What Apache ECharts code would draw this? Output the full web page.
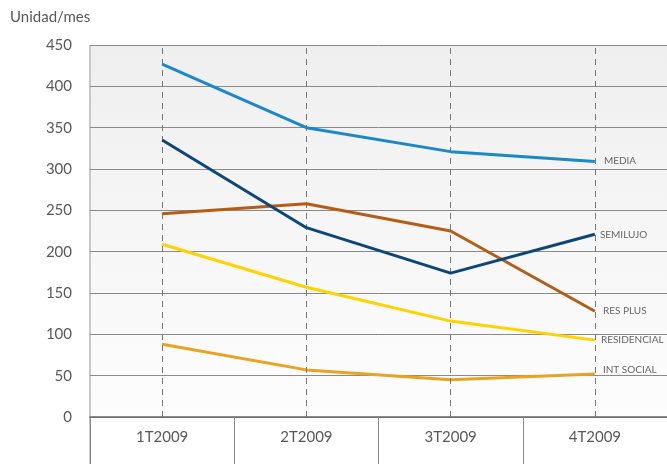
<!DOCTYPE html>
<html>
<head>
<meta charset="utf-8">
<script src="https://cdn.jsdelivr.net/npm/echarts@6/dist/echarts.min.js"></script>
<style>
  html, body { margin: 0; padding: 0; background: #fff; }
  #chart { width: 667px; height: 464px; }
</style>
</head>
<body>
<div id="chart"></div>
<script>
'use strict';
var categories = ['1T2009', '2T2009', '3T2009', '4T2009'];
var yTicks = [0, 50, 100, 150, 200, 250, 300, 350, 400, 450];

var media = [427, 350, 321, 309];
var semilujo = [335, 229, 174, 221];
var resPlus = [246, 258, 225, 128];
var residencial = [209, 157, 116, 93];
var intSocial = [88, 57, 45, 52];

var seriesNames = ['MEDIA', 'SEMILUJO', 'RES PLUS', 'RESIDENCIAL', 'INT SOCIAL'];
var seriesData = [media, semilujo, resPlus, residencial, intSocial];
var seriesColors = ['#1a88c9', '#0d4678', '#b35d17', '#ffd200', '#e8a420'];
var labelOffsets = [[9, -1], [5, 0], [8, 0], [6, 0], [8, -4]];

var fontFamily = 'Lato, "Open Sans", sans-serif';

var myChart = echarts.init(document.getElementById('chart'));

var series = seriesData.map(function (d, i) {
    var s = {
        name: seriesNames[i],
        type: 'line',
        data: d,
        symbol: 'none',
        z: 5 - i + 3,
        lineStyle: { width: 3, color: seriesColors[i] },
        itemStyle: { color: seriesColors[i] },
        endLabel: {
            show: true,
            formatter: seriesNames[i],
            color: '#666',
            fontSize: 10,
            fontFamily: fontFamily,
            distance: 0,
            offset: labelOffsets[i]
        }
    };
    if (i === 0) {
        s.markLine = {
            silent: true,
            symbol: 'none',
            label: { show: false },
            lineStyle: { color: '#777', type: [6, 5], width: 1 },
            data: categories.map(function (c) { return { xAxis: c }; })
        };
    }
    return s;
});

var option = {
    animation: false,
    textStyle: { fontFamily: fontFamily },
    grid: {
        left: 90, right: 0, top: 45, bottom: 47,
        show: true,
        borderWidth: 0,
        backgroundColor: {
            type: 'linear', x: 0, y: 0, x2: 0, y2: 1,
            colorStops: [
                { offset: 0, color: '#efefef' },
                { offset: 1, color: '#fdfdfd' }
            ]
        }
    },
    graphic: [
        {
            type: 'text', left: 10, top: 10,
            style: { text: 'Unidad/mes', fill: '#595959', font: '15px ' + fontFamily }
        },
        {
            type: 'rect', left: 89, top: 45,
            shape: { width: 2, height: 419 },
            style: { fill: '#c8c8c8' }
        }
    ],
    xAxis: {
        type: 'category',
        data: categories,
        boundaryGap: true,
        axisLine: { lineStyle: { color: '#666', width: 1.5 } },
        axisTick: { show: true, interval: 0, length: 47, lineStyle: { color: '#888' } },
        axisLabel: { color: '#595959', fontSize: 15, margin: 13, fontFamily: fontFamily },
        splitLine: { show: false }
    },
    yAxis: {
        type: 'value',
        min: yTicks[0],
        max: yTicks[yTicks.length - 1],
        interval: 50,
        axisLine: { show: false },
        axisTick: { show: false },
        axisLabel: { color: '#595959', fontSize: 15, margin: 18, fontFamily: fontFamily },
        splitLine: { lineStyle: { color: '#8a8a8a', width: 1 } }
    },
    series: series
};

myChart.setOption(option);
</script>
</body>
</html>
